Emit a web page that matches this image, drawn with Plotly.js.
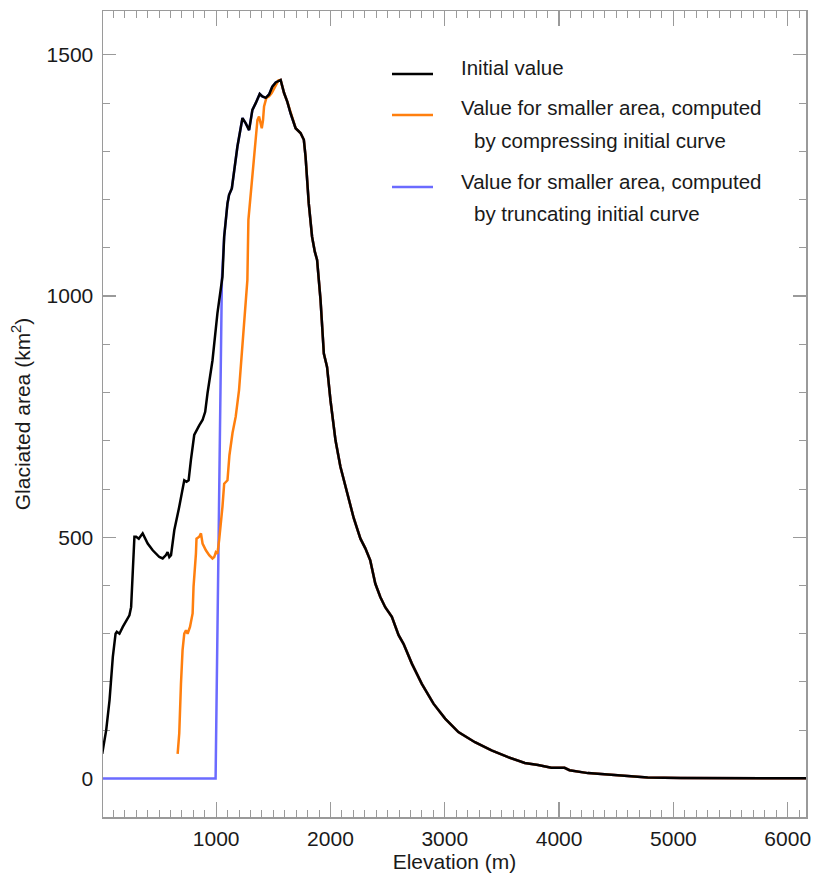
<!DOCTYPE html>
<html>
<head>
<meta charset="utf-8">
<script src="https://cdn.plot.ly/plotly-3.0.1.min.js"></script>
<style>html,body{margin:0;padding:0;background:#fff;}#chart{width:813px;height:874px;}</style>
</head>
<body>
<div id="chart"></div>
<script>
// Initial value (black)
const initialX = [3,38,67,96,120,131,154,183,241,256,271,285,300,323,357,372,401,445,503,532,561,575,590,605,634,677,706,721,741,759,779,808,852,881,904,924,968,1011,1055,1070,1099,1113,1137,1157,1186,1230,1259,1288,1317,1346,1381,1404,1434,1463,1491,1521,1564,1594,1622,1651,1695,1738,1767,1782,1810,1839,1863,1883,1913,1942,1970,2000,2044,2087,2145,2203,2262,2305,2348,2392,2436,2479,2537,2596,2639,2712,2799,2901,3003,3119,3264,3409,3554,3700,3816,3932,4048,4091,4252,4426,4571,4775,5065,5500,6160];
const initialY = [51,100,162,252,300,304,300,314,338,355,431,501,501,497,508,501,487,473,459,456,463,469,459,463,515,563,604,618,615,618,660,712,732,743,760,798,867,964,1040,1123,1192,1210,1223,1261,1310,1369,1358,1344,1386,1400,1419,1414,1411,1418,1434,1443,1448,1421,1403,1379,1348,1338,1324,1289,1192,1123,1092,1075,992,881,853,784,701,646,591,540,497,477,452,404,376,355,335,297,279,238,196,155,124,96,75,58,44,32,28,22,22,17,11,8,4,2,1,0.5,0.3];

// Compressed curve (orange), up to the peak where it joins the initial curve
const compressedX = [663,677,692,706,721,736,750,771,794,802,823,828,852,867,881,910,939,968,983,997,1011,1026,1055,1070,1099,1116,1143,1171,1200,1229,1259,1273,1282,1303,1317,1346,1361,1375,1390,1399,1410,1419,1439,1463,1486,1506,1526,1545];
const compressedY = [51,93,196,266,300,307,300,314,342,397,466,497,501,508,487,473,463,456,459,469,466,494,563,611,618,670,716,750,805,895,999,1033,1158,1213,1261,1331,1365,1372,1355,1348,1365,1393,1411,1414,1421,1431,1440,1447];

// Truncated curve (blue): zero below the cut, then the initial curve
const truncatedX = [0,995,1050];
const truncatedY = [0,0,1035];

const xTickVals = [1000,2000,3000,4000,5000,6000];
const yTickVals = [0,500,1000,1500];

const legendLabels = [
  ["Initial value"],
  ["Value for smaller area, computed", "by compressing initial curve"],
  ["Value for smaller area, computed", "by truncating initial curve"]
];
const colors = ["#000000", "#ff7f0e", "#6b6bff"];

const peakIdx = initialX.findIndex(v => v >= 1564);
const cutIdx = initialX.findIndex(v => v > 1055);

const traces = [
  {x: truncatedX.concat(initialX.slice(cutIdx)), y: truncatedY.concat(initialY.slice(cutIdx)),
   mode: 'lines', line: {color: colors[2], width: 2.5}, hoverinfo: 'skip'},
  {x: compressedX.concat(initialX.slice(peakIdx)), y: compressedY.concat(initialY.slice(peakIdx)),
   mode: 'lines', line: {color: colors[1], width: 2.5}, hoverinfo: 'skip'},
  {x: initialX, y: initialY, mode: 'lines', line: {color: colors[0], width: 2.5}, hoverinfo: 'skip'}
];

const FONT = 'Liberation Sans, Arial, Helvetica, sans-serif';
const axisCommon = {
  showline: true, linecolor: '#9a9a9a', linewidth: 1.5, layer: 'below traces',
  mirror: 'ticks', ticks: 'inside', tickcolor: '#9a9a9a', tickwidth: 1.2,
  showgrid: false, zeroline: false,
  tickfont: {family: FONT, size: 21, color: '#1a1a1a'},
  minor: {dtick: 100, ticks: 'inside', ticklen: 7, tickcolor: '#9a9a9a', tickwidth: 1, showgrid: false}
};

// legend drawn as shapes + annotations (paper coordinates)
const plotL = 103, plotR = 806, plotT = 11, plotB = 817;
const px = v => (v - plotL) / (plotR - plotL);
const py = v => (plotB - v) / (plotB - plotT);
const sampleY = [74, 115, 187];
const textRows = [[67], [108, 140], [181, 213]];
const shapes = [];
const annotations = [];
for (let i = 0; i < 3; i++) {
  shapes.push({type: 'line', xref: 'paper', yref: 'paper', x0: px(392), x1: px(433), y0: py(sampleY[i]), y1: py(sampleY[i]),
    line: {color: colors[i], width: 2.5}});
  legendLabels[i].forEach((t, j) => {
    annotations.push({xref: 'paper', yref: 'paper', x: px(j === 0 ? 459 : 472), y: py(textRows[i][j]),
      xanchor: 'left', yanchor: 'middle', showarrow: false, text: t,
      font: {family: FONT, size: 20.5, color: '#1a1a1a'}});
  });
}

const layout = {
  width: 813, height: 874,
  margin: {l: plotL, r: 813 - plotR, t: plotT, b: 874 - plotB},
  paper_bgcolor: '#fff', plot_bgcolor: '#fff',
  showlegend: false,
  xaxis: Object.assign({}, axisCommon, {
    range: [10, 6160], tickvals: xTickVals, ticklen: 15,
    ticklabelstandoff: 2,
    title: {text: 'Elevation (m)', font: {family: FONT, size: 21, color: '#1a1a1a'}, standoff: 0}
  }),
  yaxis: Object.assign({}, axisCommon, {
    range: [-80, 1591], tickvals: yTickVals, ticklen: 13,
    ticklabelstandoff: 4,
    title: {text: 'Glaciated area (km<sup>2</sup>)', font: {family: FONT, size: 21, color: '#1a1a1a'}, standoff: 10}
  }),
  shapes: shapes,
  annotations: annotations
};

Plotly.newPlot('chart', traces, layout, {staticPlot: true, displayModeBar: false});
</script>
</body>
</html>
